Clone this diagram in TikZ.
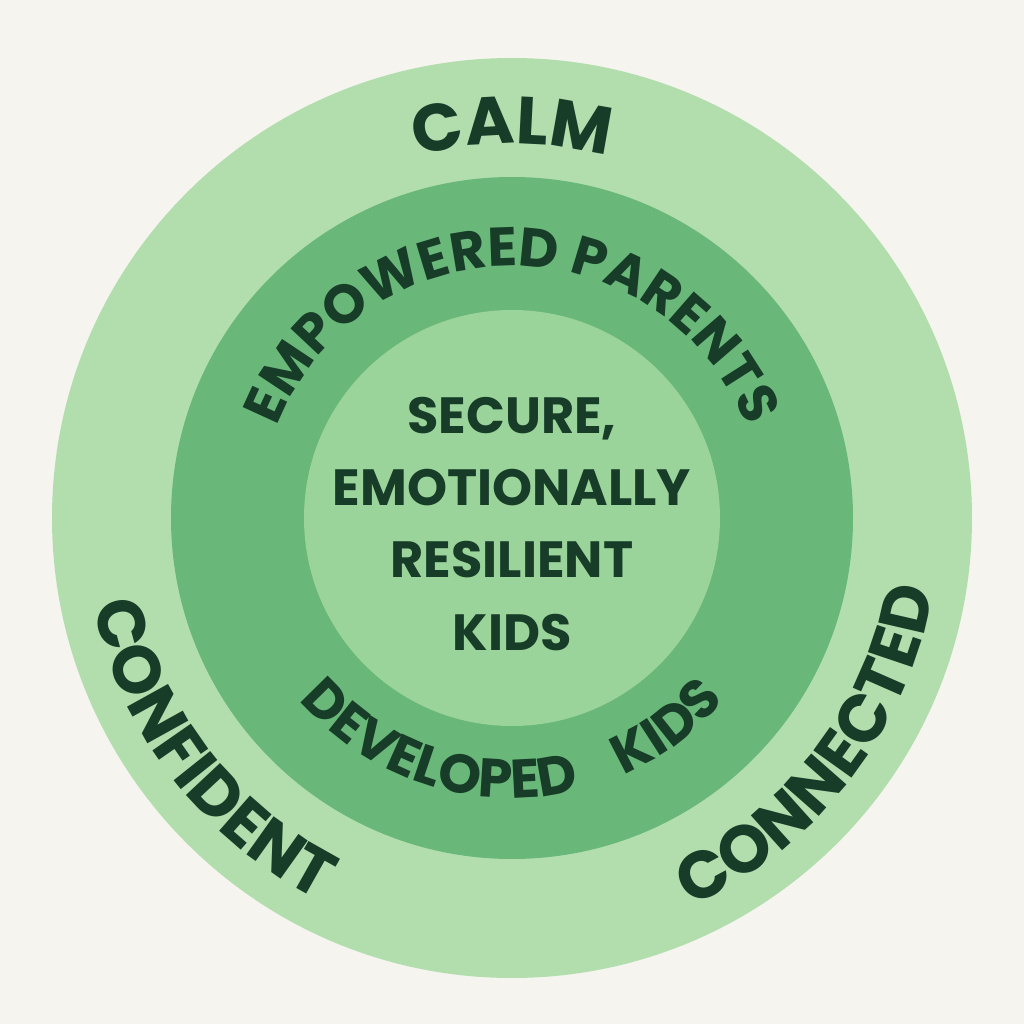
\documentclass[tikz,border=0pt]{standalone}
\usepackage{fontspec}
\setmainfont{Poppins}
\usetikzlibrary{decorations.text}
\definecolor{bgcol}{HTML}{F5F4EF}
\definecolor{ringout}{HTML}{B2DEAE}
\definecolor{ringmid}{HTML}{6AB77A}
\definecolor{ringin}{HTML}{9BD49A}
\definecolor{ink}{HTML}{173C28}
\tikzset{
  ring/.style={draw=none},
  arclabel/.style={decorate, decoration={text along path, text align=center, text color=ink, text={#1}}}
}
\newcommand{\bigf}{\fontsize{19}{19}\selectfont\bfseries}
\newcommand{\midf}{\fontsize{15.5}{15.5}\selectfont\bfseries}
\begin{document}
\begin{tikzpicture}

    % Canvas
    \fill[bgcol] (0,0) rectangle (10.24,10.24);
    \coordinate (c) at (5.12,5.06);

    % Rings
    \fill[ring, ringout] (c) circle (4.60);
    \fill[ring, ringmid] (c) circle (3.41);
    \fill[ring, ringin] (c) circle (2.08);

    % Outer ring words
    \path[arclabel={|\bigf|CALM}] (c) ++(180:3.74) arc (180:0:3.74);
    \path[arclabel={|\bigf|CONFIDENT}] (c) ++(165:4.28) arc (165:270:4.28);
    \path[arclabel={|\bigf|CONNECTED}] (c) ++(270:4.28) arc (270:375:4.28);

    % Middle ring words
    \path[arclabel={|\midf|EMPOWERED PARENTS}] (c) ++(180:2.52) arc (180:0:2.52);
    \path[arclabel={|\midf|DEVELOPED \ \ \ KIDS}] (c) ++(190:2.80) arc (190:350:2.80);

    % Centre
    \node[align=center, text=ink, font=\fontsize{14.5}{20.5}\selectfont\bfseries] (core) at (5.12,5.0)
      {SECURE,\\EMOTIONALLY\\RESILIENT\\KIDS};

\end{tikzpicture}
\end{document}
